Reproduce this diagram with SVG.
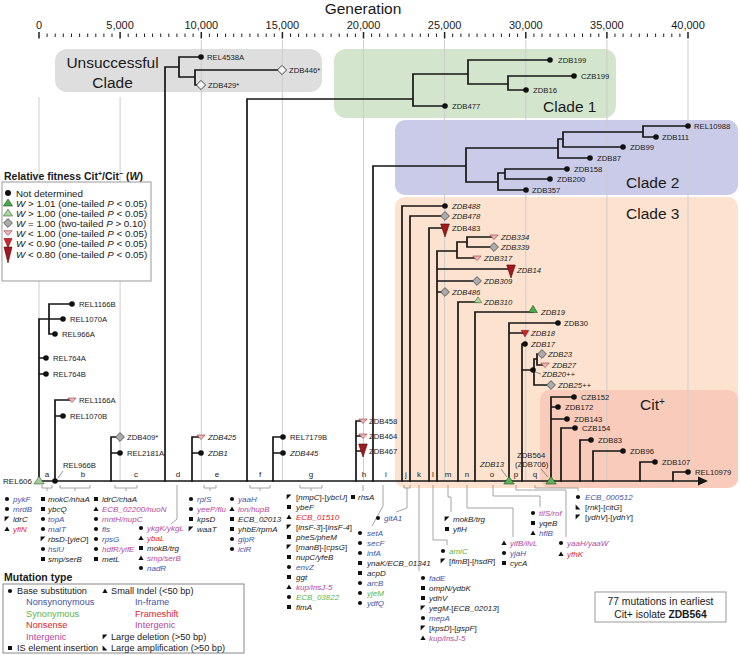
<svg xmlns="http://www.w3.org/2000/svg" xmlns:xlink="http://www.w3.org/1999/xlink" width="740" height="655" viewBox="0 0 740 655">
<style>
text{font-family:"Liberation Sans",Arial,sans-serif;fill:#1a1a1a}
.n{font-size:7.7px}
.i{font-style:italic}
.ml{font-size:8px;font-style:italic}
.seg{font-size:8px}
.ax{font-size:11px}
.cl{font-size:15.5px}
.lg{font-size:9.8px}
.mt{font-size:9.2px}
.grid{stroke:#cdcdcd;stroke-width:1;fill:none}
.tree{stroke:#151515;stroke-width:1.7;fill:none;stroke-linecap:square}
.conn{stroke:#9a9a9a;stroke-width:0.9;fill:none}
.cb{fill:#3d55a8}.cg{fill:#5cb549}.cr{fill:#e5232b}.cm{fill:#b4489c}
text.cb{fill:#3d55a8}text.cg{fill:#5cb549}text.cr{fill:#e5232b}text.cm{fill:#b4489c}
.nt{font-style:normal}
</style>
<defs>
<circle id="dot" r="2.8" fill="#111"/>
<path id="dia" d="M0,-4.4L4.4,0L0,4.4L-4.4,0Z" fill="#ababab" stroke="#444" stroke-width="0.8"/>
<path id="diaw" d="M0,-4.6L4.6,0L0,4.6L-4.6,0Z" fill="#f4f4f4" stroke="#333" stroke-width="0.9"/>
<path id="tpk" d="M-4.2,-2H4.2L0,2.6Z" fill="#f0b2b6" stroke="#8a3c40" stroke-width="0.6"/>
<path id="trd" d="M-3.8,-2.6H3.8L0,3.8Z" fill="#d3222a" stroke="#6a1014" stroke-width="0.6"/>
<path id="tdr" d="M-4.3,-4H4.3L0,9Z" fill="#a3171d" stroke="#4a0a0c" stroke-width="0.6"/>
<path id="tgr" d="M0,-4.6L4.4,2.6H-4.4Z" fill="#4aa84a" stroke="#1f4f1f" stroke-width="0.6"/>
<path id="tlg" d="M0,-3.6L3.9,2.2H-3.9Z" fill="#a9d59b" stroke="#3d6a35" stroke-width="0.6"/>
<path id="tbg" d="M0,-4.6L5.2,3H-5.2Z" fill="#5cb45a" stroke="#1f4f1f" stroke-width="0.6"/>
<path id="tbl" d="M0,-4.6L5.2,3H-5.2Z" fill="#a5c99a" stroke="#3d6a35" stroke-width="0.6"/>
<circle id="mb" r="2.1" fill="#111"/>
<rect id="ms" x="-2" y="-2" width="4" height="4" fill="#111"/>
<path id="mt" d="M0,-2.6L2.6,2H-2.6Z" fill="#111"/>
<path id="md" d="M-2.4,-2.4H2.4L-2.4,2.4Z" fill="#111"/>
<path id="ma" d="M-2.4,-2.4V2.4H2.4Z" fill="#111"/>
</defs>

<!-- title & axis -->
<g id="axis">
<text x="363" y="14" text-anchor="middle" style="font-size:15.5px">Generation</text>
<g class="ax" text-anchor="middle">
<text x="39" y="29.3">0</text><text x="120.1" y="29.3">5,000</text><text x="201.3" y="29.3">10,000</text><text x="282.4" y="29.3">15,000</text><text x="363.5" y="29.3">20,000</text><text x="444.6" y="29.3">25,000</text><text x="525.8" y="29.3">30,000</text><text x="606.9" y="29.3">35,000</text><text x="688" y="29.3">40,000</text>
</g>
<path stroke="#222" stroke-width="1" d="M47.1,33.5V37M55.2,33.5V37M63.3,33.5V37M71.5,33.5V37M79.6,33.5V37M87.7,33.5V37M95.8,33.5V37M103.9,33.5V37M112,33.5V37M128.2,33.5V37M136.4,33.5V37M144.5,33.5V37M152.6,33.5V37M160.7,33.5V37M168.8,33.5V37M176.9,33.5V37M185,33.5V37M193.1,33.5V37M209.4,33.5V37M217.5,33.5V37M225.6,33.5V37M233.7,33.5V37M241.8,33.5V37M249.9,33.5V37M258,33.5V37M266.2,33.5V37M274.3,33.5V37M290.5,33.5V37M298.6,33.5V37M306.7,33.5V37M314.8,33.5V37M322.9,33.5V37M331.1,33.5V37M339.2,33.5V37M347.3,33.5V37M355.4,33.5V37M371.6,33.5V37M379.7,33.5V37M387.8,33.5V37M396,33.5V37M404.1,33.5V37M412.2,33.5V37M420.3,33.5V37M428.4,33.5V37M436.5,33.5V37M452.7,33.5V37M460.9,33.5V37M469,33.5V37M477.1,33.5V37M485.2,33.5V37M493.3,33.5V37M501.4,33.5V37M509.5,33.5V37M517.6,33.5V37M533.9,33.5V37M542,33.5V37M550.1,33.5V37M558.2,33.5V37M566.3,33.5V37M574.4,33.5V37M582.5,33.5V37M590.7,33.5V37M598.8,33.5V37M615,33.5V37M623.1,33.5V37M631.2,33.5V37M639.3,33.5V37M647.4,33.5V37M655.6,33.5V37M663.7,33.5V37M671.8,33.5V37M679.9,33.5V37"/>
<path stroke="#222" stroke-width="1.5" d="M39,32V38.5M120.1,32V38.5M201.3,32V38.5M282.4,32V38.5M363.5,32V38.5M444.6,32V38.5M525.8,32V38.5M606.9,32V38.5M688,32V38.5"/>
</g>

<!-- clade backgrounds -->
<g id="clade-boxes">
<rect x="55" y="49" width="267" height="43" rx="12" fill="#dedede"/>
<rect x="334" y="49" width="282" height="69" rx="12" fill="#d3e6cd"/>
<rect x="395" y="120" width="343" height="75" rx="10" fill="#c9cbe8"/>
<rect x="395" y="197" width="343" height="291" rx="10" fill="#fde3cf"/>
<rect x="540" y="390" width="198" height="98" rx="10" fill="#f8cbbb"/>
</g>

<g id="grid">
<path class="grid" d="M39,97V481M120.1,97V481M201.3,40V481M282.4,40V481M363.5,40V481M444.6,40V481M525.8,40V481M606.9,40V481M688,40V481"/>
</g>

<g id="clade-labels" class="cl">
<text x="112.5" y="68" text-anchor="middle">Unsuccessful</text>
<text x="112.5" y="88" text-anchor="middle">Clade</text>
<text x="543" y="112">Clade 1</text>
<text x="626" y="188">Clade 2</text>
<text x="626" y="219">Clade 3</text>
<text x="640" y="410">Cit<tspan dy="-5" style="font-size:10px">+</tspan></text>
</g>

<!-- fitness legend -->
<g id="fitness-legend">
<text x="4" y="180" style="font-size:10.5px;font-weight:bold">Relative fitness Cit<tspan dy="-4" style="font-size:7px">+</tspan><tspan dy="4">/Cit</tspan><tspan dy="-4" style="font-size:7px">−</tspan><tspan dy="4"> (</tspan><tspan font-style="italic">W</tspan>)</text>
<rect x="2" y="182" width="149" height="99" fill="#fff" stroke="#999" stroke-width="1"/>
<circle cx="8" cy="193" r="3" fill="#111"/>
<path transform="translate(8,203)" d="M0,-4L4.6,3H-4.6Z" fill="#4aa84a" stroke="#1f4f1f" stroke-width="0.6"/>
<path transform="translate(8,213)" d="M0,-4L4.6,3H-4.6Z" fill="#a9d59b" stroke="#3d6a35" stroke-width="0.6"/>
<use href="#dia" x="8" y="223"/>
<path transform="translate(8,233)" d="M-4.2,-2.3H4.2L0,2.5Z" fill="#f0b2b6" stroke="#8a3c40" stroke-width="0.6"/>
<path transform="translate(8,243)" d="M-4,-4.5H4L0,4.5Z" fill="#d3222a" stroke="#6a1014" stroke-width="0.6"/>
<path transform="translate(8,253)" d="M-4,-6H4L0,10Z" fill="#a3171d" stroke="#4a0a0c" stroke-width="0.6"/>
<g class="lg">
<text x="16" y="196.5">Not determined</text>
<text x="16" y="206.5"><tspan class="i">W</tspan> &gt; 1.01 (one-tailed <tspan class="i">P</tspan> &lt; 0.05)</text>
<text x="16" y="216.5"><tspan class="i">W</tspan> &gt; 1.00 (one-tailed <tspan class="i">P</tspan> &lt; 0.05)</text>
<text x="16" y="226.5"><tspan class="i">W</tspan> = 1.00 (two-tailed <tspan class="i">P</tspan> &gt; 0.10)</text>
<text x="16" y="236.5"><tspan class="i">W</tspan> &lt; 1.00 (one-tailed <tspan class="i">P</tspan> &lt; 0.05)</text>
<text x="16" y="246.5"><tspan class="i">W</tspan> &lt; 0.90 (one-tailed <tspan class="i">P</tspan> &lt; 0.05)</text>
<text x="16" y="257.5"><tspan class="i">W</tspan> &lt; 0.80 (one-tailed <tspan class="i">P</tspan> &lt; 0.05)</text>
</g>
</g>

<!-- connectors: tree branches -->
<g id="connectors">
<path class="tree" d="M39,481V319H49M49,304V334M49,304H72M49,319H63M49,334H55M39,358H46M39,374H46"/>
<path class="tree" d="M55,481V400H72M55,416H63"/>
<path class="tree" d="M111,481V437H120M111,453H120"/>
<path class="tree" d="M165,481V67H179M179,57V77M179,57H201M179,77H195M195,70V85M195,70H282M195,85H201"/>
<path class="tree" d="M192,481V437H201M192,453H201"/>
<path class="tree" d="M247,481V99H413M413,74V106M413,106H445M413,74H468M468,60V84M468,60H550M468,84H508M508,76V90M508,76H574M508,90H526"/>
<path class="tree" d="M273,481V437H283M273,453H283"/>
<path class="tree" d="M356,481V421H363M356,436H363M356,451H363"/>
<path class="tree" d="M373,481V166H466M466,148V182M466,148H558M558,139V158M558,158H590M558,139H563M563,132V147M563,147H623M563,132H643M643,126V137M643,126H688M643,137H656M466,182H498M498,173V190M498,190H526M498,173H505M505,169V179M505,169H567M505,179H550"/>
<path class="tree" d="M402,481V206H445M410,481V216H445M429,481V228H445"/>
<path class="tree" d="M437,481V251H457M457,242V258M457,242H467M467,237V247M467,237H494M467,247H494M457,258H477M437,269H511M437,281H477M437,292H445"/>
<path class="tree" d="M458,481V302H478M475,481V312H533"/>
<path class="tree" d="M509,481V323H558M509,333H525"/>
<path class="tree" d="M522,481V344H525M522,370H533M534,359V385M534,359H537M537,354V365M537,354H542M537,365H545M534,385H551"/>
<path class="tree" d="M551,481V397H574M551,407H558M551,419H567"/>
<path class="tree" d="M561,481V428H575M580,481V440H591M593,481V451H623M640,481V462H655M673,481V472H688"/>
<path class="tree" d="M39,481H700"/>
<path d="M698,476.5L708,481L698,485.5Z" fill="#151515"/>
<!-- leaders -->
<path stroke="#666" stroke-width="0.7" fill="none" d="M58,478L63,471M501,469L507,477M541,469L548,477M535,372L541,374"/>
<!-- mutation connectors -->
<path class="conn" d="M42,485V488H52V485M47,488V491"/>
<path class="conn" d="M60,485V488H90V485M75,488V491"/>
<path class="conn" d="M115,485V488H137V485M126,488V491"/>
<path class="conn" d="M177,485V519L171,524"/>
<path class="conn" d="M204,485V488H216V485M210,488V491"/>
<path class="conn" d="M250,485V488H270V485M260,488V491"/>
<path class="conn" d="M300,485V488H322V485M311,488V491"/>
<path class="conn" d="M363,485V491"/>
<path class="conn" d="M383,485V506L372,526"/>
<path class="conn" d="M404,485V488H410V485M407,488V508L396,512"/>
<path class="conn" d="M419,485V571"/>
<path class="conn" d="M433,485V540H447V545"/>
<path class="conn" d="M448,485V497H451V512"/>
<path class="conn" d="M467,485V508H513V537"/>
<path class="conn" d="M493,485V496H540V507"/>
<path class="conn" d="M516,485V490H566V537"/>
<path class="conn" d="M535,485V488H578V491"/>
</g>

<!-- nodes -->
<g id="node-REL606"><use href="#tbl" x="39" y="481"/><text class="seg" x="32" y="484" text-anchor="end">REL606</text></g>
<g id="node-REL1166B"><use href="#dot" x="72" y="304"/><text class="n" x="79" y="306.8">REL1166B</text></g>
<g id="node-REL1070A"><use href="#dot" x="63" y="319"/><text class="n" x="70" y="321.8">REL1070A</text></g>
<g id="node-REL966A"><use href="#dot" x="55" y="334"/><text class="n" x="62" y="336.8">REL966A</text></g>
<g id="node-REL764A"><use href="#dot" x="46" y="358"/><text class="n" x="53" y="360.8">REL764A</text></g>
<g id="node-REL764B"><use href="#dot" x="46" y="374"/><text class="n" x="53" y="376.8">REL764B</text></g>
<g id="node-REL1166A"><use href="#tpk" x="72" y="400"/><text class="n" x="79" y="402.8">REL1166A</text></g>
<g id="node-REL1070B"><use href="#dot" x="63" y="416"/><text class="n" x="70" y="418.8">REL1070B</text></g>
<g id="node-REL966B"><use href="#dot" x="55" y="481"/><text class="n" x="63" y="468">REL966B</text></g>
<g id="node-ZDB409"><use href="#dia" x="120" y="437"/><text class="n" x="127" y="439.8">ZDB409*</text></g>
<g id="node-REL2181A"><use href="#dot" x="120" y="453"/><text class="n" x="127" y="455.8">REL2181A</text></g>
<g id="node-REL4538A"><use href="#dot" x="201" y="57"/><text class="n" x="207" y="59.8">REL4538A</text></g>
<g id="node-ZDB446"><use href="#diaw" x="282" y="70"/><text class="n" x="289" y="72.8">ZDB446*</text></g>
<g id="node-ZDB429"><use href="#diaw" x="201" y="85"/><text class="n" x="208" y="87.8">ZDB429*</text></g>
<g id="node-ZDB425"><use href="#tpk" x="201" y="437"/><text class="n i" x="208" y="439.8">ZDB425</text></g>
<g id="node-ZDB1"><use href="#dot" x="201" y="453"/><text class="n i" x="208" y="455.8">ZDB1</text></g>
<g id="node-REL7179B"><use href="#dot" x="283" y="437"/><text class="n" x="290" y="439.8">REL7179B</text></g>
<g id="node-ZDB445"><use href="#dot" x="283" y="453"/><text class="n i" x="290" y="455.8">ZDB445</text></g>
<g id="node-ZDB458"><use href="#tpk" x="363" y="421"/><text class="n" x="369" y="423.8">ZDB458</text></g>
<g id="node-ZDB464"><use href="#tpk" x="363" y="436"/><text class="n" x="369" y="438.8">ZDB464</text></g>
<g id="node-ZDB467"><use href="#tdr" x="363" y="448"/><text class="n" x="369" y="453.8">ZDB467</text></g>
<g id="node-ZDB199"><use href="#dot" x="550" y="60"/><text class="n" x="558" y="62.8">ZDB199</text></g>
<g id="node-CZB199"><use href="#dot" x="574" y="76"/><text class="n" x="581" y="78.8">CZB199</text></g>
<g id="node-ZDB16"><use href="#dot" x="526" y="90"/><text class="n" x="533" y="92.8">ZDB16</text></g>
<g id="node-ZDB477"><use href="#dot" x="445" y="106"/><text class="n" x="452" y="108.8">ZDB477</text></g>
<g id="node-REL10988"><use href="#dot" x="688" y="126"/><text class="n" x="694" y="128.8">REL10988</text></g>
<g id="node-ZDB111"><use href="#dot" x="656" y="137"/><text class="n" x="662" y="139.8">ZDB111</text></g>
<g id="node-ZDB99"><use href="#dot" x="623" y="147"/><text class="n" x="630" y="149.8">ZDB99</text></g>
<g id="node-ZDB87"><use href="#dot" x="590" y="158"/><text class="n" x="597" y="160.8">ZDB87</text></g>
<g id="node-ZDB158"><use href="#dot" x="567" y="169"/><text class="n" x="574" y="171.8">ZDB158</text></g>
<g id="node-ZDB200"><use href="#dot" x="550" y="179"/><text class="n" x="557" y="181.8">ZDB200</text></g>
<g id="node-ZDB357"><use href="#dot" x="526" y="190"/><text class="n" x="532" y="192.8">ZDB357</text></g>
<g id="node-ZDB488"><use href="#dot" x="445" y="206"/><text class="n i" x="452" y="208.8">ZDB488</text></g>
<g id="node-ZDB478"><use href="#dia" x="445" y="216"/><text class="n i" x="452" y="218.8">ZDB478</text></g>
<g id="node-ZDB483"><use href="#tdr" x="445" y="228"/><text class="n" x="452" y="230.8">ZDB483</text></g>
<g id="node-ZDB334"><use href="#tpk" x="494" y="237"/><text class="n i" x="501" y="239.8">ZDB334</text></g>
<g id="node-ZDB339"><use href="#dia" x="494" y="247"/><text class="n i" x="501" y="249.8">ZDB339</text></g>
<g id="node-ZDB317"><use href="#tpk" x="477" y="258"/><text class="n i" x="484" y="260.8">ZDB317</text></g>
<g id="node-ZDB14"><use href="#tdr" x="511" y="269"/><text class="n i" x="517" y="273">ZDB14</text></g>
<g id="node-ZDB309"><use href="#dia" x="477" y="281"/><text class="n i" x="484" y="283.8">ZDB309</text></g>
<g id="node-ZDB486"><use href="#dia" x="445" y="292"/><text class="n i" x="452" y="294.8">ZDB486</text></g>
<g id="node-ZDB310"><use href="#tlg" x="478" y="300.5"/><text class="n i" x="484" y="304.5">ZDB310</text></g>
<g id="node-ZDB19"><use href="#tgr" x="533" y="310"/><text class="n i" x="541" y="314.5">ZDB19</text></g>
<g id="node-ZDB30"><use href="#dot" x="558" y="323"/><text class="n" x="564" y="325.8">ZDB30</text></g>
<g id="node-ZDB18"><use href="#trd" x="525" y="333"/><text class="n i" x="531" y="335.8">ZDB18</text></g>
<g id="node-ZDB17"><use href="#dot" x="525" y="344"/><text class="n i" x="531" y="346.8">ZDB17</text></g>
<g id="node-ZDB23"><use href="#dia" x="542" y="354"/><text class="n i" x="548" y="356.8">ZDB23</text></g>
<g id="node-ZDB27"><use href="#tpk" x="545" y="365"/><text class="n i" x="552" y="367.8">ZDB27</text></g>
<g id="node-ZDB20"><use href="#dot" x="533" y="370"/><text class="n i" x="542" y="377">ZDB20++</text></g>
<g id="node-ZDB25"><use href="#dia" x="551" y="385"/><text class="n i" x="558" y="387.8">ZDB25++</text></g>
<g id="node-ZDB13"><use href="#tbg" x="509" y="481"/><text class="n i" x="480" y="467">ZDB13</text></g>
<g id="node-ZDB564"><use href="#tbg" x="551" y="481"/><text class="n" x="517" y="458">ZDB564</text><text class="n" x="515" y="466.5">(ZDB706)</text></g>
<g id="node-CZB152"><use href="#dot" x="574" y="397"/><text class="n" x="581" y="399.8">CZB152</text></g>
<g id="node-ZDB172"><use href="#dot" x="558" y="407"/><text class="n" x="565" y="409.8">ZDB172</text></g>
<g id="node-ZDB143"><use href="#dot" x="567" y="419"/><text class="n" x="574" y="421.8">ZDB143</text></g>
<g id="node-CZB154"><use href="#dot" x="575" y="428"/><text class="n" x="582" y="430.8">CZB154</text></g>
<g id="node-ZDB83"><use href="#dot" x="591" y="440"/><text class="n" x="598" y="442.8">ZDB83</text></g>
<g id="node-ZDB96"><use href="#dot" x="623" y="451"/><text class="n" x="630" y="453.8">ZDB96</text></g>
<g id="node-ZDB107"><use href="#dot" x="655" y="462"/><text class="n" x="662" y="464.8">ZDB107</text></g>
<g id="node-REL10979"><use href="#dot" x="688" y="472"/><text class="n" x="695" y="474.8">REL10979</text></g>

<!-- segment letters -->
<g id="segments" class="seg" text-anchor="middle">
<text x="47" y="477">a</text><text x="83" y="477">b</text><text x="136" y="477">c</text><text x="178" y="477">d</text><text x="217" y="477">e</text><text x="260" y="477">f</text><text x="311" y="477">g</text><text x="364" y="477">h</text><text x="386" y="477">i</text><text x="406" y="477">j</text><text x="419" y="477">k</text><text x="433" y="477">l</text><text x="448" y="477">m</text><text x="467" y="477">n</text><text x="492" y="477">o</text><text x="516" y="477">p</text><text x="535" y="477">q</text>
</g>

<!-- mutation lists -->
<g id="list-a">
<use href="#mb" x="7" y="499"/><text class="ml cb" x="13" y="501.8">pykF</text>
<use href="#mb" x="7" y="509"/><text class="ml cb" x="13" y="511.8">mrdB</text>
<use href="#md" x="7" y="519"/><text class="ml" x="13" y="521.8">ldrC</text>
<use href="#mt" x="7" y="529"/><text class="ml cr" x="13" y="531.8">yfiN</text>
</g>
<g id="list-b">
<use href="#ms" x="43" y="499"/><text class="ml" x="48" y="501.8">mokC/nhaA</text>
<use href="#ms" x="43" y="509"/><text class="ml" x="48" y="511.8">ybcQ</text>
<use href="#mb" x="43" y="519"/><text class="ml cb" x="48" y="521.8">topA</text>
<use href="#mb" x="43" y="529"/><text class="ml cb" x="48" y="531.8">malT</text>
<use href="#md" x="43" y="539"/><text class="ml" x="48" y="541.8">rbsD-<tspan class="nt">[</tspan>yieO<tspan class="nt">]</tspan></text>
<use href="#mb" x="43" y="549"/><text class="ml cb" x="48" y="551.8">hslU</text>
<use href="#ms" x="43" y="559"/><text class="ml" x="48" y="561.8">smp/serB</text>
</g>
<g id="list-c">
<use href="#ms" x="96" y="499"/><text class="ml" x="102" y="501.8">ldrC/chaA</text>
<use href="#mt" x="96" y="509"/><text class="ml cm" x="102" y="511.8">ECB_02200/nuoN</text>
<use href="#mb" x="96" y="519"/><text class="ml cm" x="102" y="521.8">mntH/nupC</text>
<use href="#mb" x="96" y="529"/><text class="ml cb" x="102" y="531.8">fis</text>
<use href="#mb" x="96" y="539"/><text class="ml cb" x="102" y="541.8">rpsG</text>
<use href="#mb" x="96" y="549"/><text class="ml cm" x="102" y="551.8">hdfR/yifE</text>
<use href="#ms" x="96" y="559"/><text class="ml" x="102" y="561.8">metL</text>
</g>
<g id="list-d">
<use href="#mb" x="141" y="528"/><text class="ml cm" x="147" y="530.8">ykgK/ykgL</text>
<use href="#mt" x="141" y="538"/><text class="ml cr" x="147" y="540.8">ybaL</text>
<use href="#ms" x="141" y="548"/><text class="ml" x="147" y="550.8">mokB/trg</text>
<use href="#mt" x="141" y="558"/><text class="ml cm" x="147" y="560.8">smp/serB</text>
<use href="#mb" x="141" y="568"/><text class="ml cb" x="147" y="570.8">nadR</text>
</g>
<g id="list-e">
<use href="#mb" x="191" y="499"/><text class="ml cb" x="197" y="501.8">rplS</text>
<use href="#mb" x="191" y="509"/><text class="ml cm" x="197" y="511.8">yeeP/flu</text>
<use href="#ms" x="191" y="519"/><text class="ml" x="197" y="521.8">kpsD</text>
<use href="#md" x="191" y="529"/><text class="ml" x="197" y="531.8">waaT</text>
</g>
<g id="list-f">
<use href="#mb" x="232" y="499"/><text class="ml cb" x="238" y="501.8">yaaH</text>
<use href="#mt" x="232" y="509"/><text class="ml cm" x="238" y="511.8">lon/hupB</text>
<use href="#ms" x="232" y="519"/><text class="ml" x="238" y="521.8">ECB_02013</text>
<use href="#ms" x="232" y="529"/><text class="ml" x="238" y="531.8">yhbE/rpmA</text>
<use href="#mb" x="232" y="539"/><text class="ml cb" x="238" y="541.8">glpR</text>
<use href="#mb" x="232" y="549"/><text class="ml cb" x="238" y="551.8">iclR</text>
</g>
<g id="list-g">
<use href="#md" x="289" y="497"/><text class="ml" x="296" y="499.8"><tspan class="nt">[</tspan>nmpC<tspan class="nt">]-[</tspan>ybcU<tspan class="nt">]</tspan></text>
<use href="#ms" x="289" y="507"/><text class="ml" x="296" y="509.8">ybeF</text>
<use href="#mt" x="289" y="517"/><text class="ml cr" x="296" y="519.8">ECB_01510</text>
<use href="#md" x="289" y="527"/><text class="ml" x="296" y="529.8"><tspan class="nt">[</tspan>insF-3<tspan class="nt">]-[</tspan>insF-4<tspan class="nt">]</tspan></text>
<use href="#ms" x="289" y="537"/><text class="ml" x="296" y="539.8">pheS/pheM</text>
<use href="#md" x="289" y="547"/><text class="ml" x="296" y="549.8"><tspan class="nt">[</tspan>manB<tspan class="nt">]-[</tspan>cpsG<tspan class="nt">]</tspan></text>
<use href="#ms" x="289" y="557"/><text class="ml" x="296" y="559.8">nupC/yfeB</text>
<use href="#mb" x="289" y="567"/><text class="ml cb" x="296" y="569.8">envZ</text>
<use href="#ms" x="289" y="577"/><text class="ml" x="296" y="579.8">ggt</text>
<use href="#mt" x="289" y="587"/><text class="ml cm" x="296" y="589.8">kup/insJ-5</text>
<use href="#mb" x="289" y="597"/><text class="ml cg" x="296" y="599.8">ECB_03822</text>
<use href="#ms" x="289" y="607"/><text class="ml" x="296" y="609.8">fimA</text>
</g>
<g id="list-h">
<use href="#ms" x="353" y="497"/><text class="ml" x="358" y="499.8">rhsA</text>
</g>
<g id="list-i">
<use href="#mb" x="360" y="533"/><text class="ml cb" x="367" y="535.8">setA</text>
<use href="#mb" x="360" y="543"/><text class="ml cb" x="367" y="545.8">secF</text>
<use href="#mb" x="360" y="553"/><text class="ml cb" x="367" y="555.8">infA</text>
<use href="#ms" x="360" y="563"/><text class="ml" x="367" y="565.8">ynaK/ECB_01341</text>
<use href="#ms" x="360" y="573"/><text class="ml" x="367" y="575.8">acpD</text>
<use href="#mb" x="360" y="583"/><text class="ml cb" x="367" y="585.8">arcB</text>
<use href="#mb" x="360" y="593"/><text class="ml cg" x="367" y="595.8">yjeM</text>
<use href="#mb" x="360" y="603"/><text class="ml cb" x="367" y="605.8">ydfQ</text>
</g>
<g id="list-j">
<use href="#mb" x="378" y="518"/><text class="ml cb" x="384" y="520.8">gltA1</text>
</g>
<g id="list-k">
<use href="#mb" x="423" y="578"/><text class="ml cb" x="429" y="580.8">fadE</text>
<use href="#ms" x="423" y="588"/><text class="ml" x="429" y="590.8">ompN/ydbK</text>
<use href="#ms" x="423" y="598"/><text class="ml" x="429" y="600.8">ydhV</text>
<use href="#md" x="423" y="608"/><text class="ml" x="429" y="610.8">yegM-<tspan class="nt">[</tspan>ECB_02013<tspan class="nt">]</tspan></text>
<use href="#mb" x="423" y="618"/><text class="ml cb" x="429" y="620.8">mepA</text>
<use href="#md" x="423" y="628"/><text class="ml" x="429" y="630.8"><tspan class="nt">[</tspan>kpsD<tspan class="nt">]-[</tspan>gspF<tspan class="nt">]</tspan></text>
<use href="#mt" x="423" y="638"/><text class="ml cm" x="429" y="640.8">kup/insJ-5</text>
</g>
<g id="list-l">
<use href="#mb" x="443" y="551"/><text class="ml cg" x="449" y="553.8">amiC</text>
<use href="#md" x="443" y="561"/><text class="ml" x="449" y="563.8"><tspan class="nt">[</tspan>fimB<tspan class="nt">]-[</tspan>hsdR<tspan class="nt">]</tspan></text>
</g>
<g id="list-m">
<use href="#md" x="447" y="519"/><text class="ml" x="453" y="521.8">mokB/trg</text>
<use href="#ms" x="447" y="529"/><text class="ml" x="453" y="531.8">yfiH</text>
</g>
<g id="list-n">
<use href="#mt" x="504" y="543"/><text class="ml cm" x="510" y="545.8">yifB/ilvL</text>
<use href="#mb" x="504" y="553"/><text class="ml cb" x="510" y="555.8">yjaH</text>
<use href="#ms" x="504" y="563"/><text class="ml" x="510" y="565.8">cycA</text>
</g>
<g id="list-o">
<use href="#mb" x="533" y="513"/><text class="ml cm" x="539" y="515.8">tilS/rof</text>
<use href="#ms" x="533" y="523"/><text class="ml" x="539" y="525.8">yqeB</text>
<use href="#mt" x="533" y="533"/><text class="ml cb" x="539" y="535.8">hflB</text>
</g>
<g id="list-p">
<use href="#mb" x="561" y="543"/><text class="ml cm" x="567" y="545.8">yaaH/yaaW</text>
<use href="#mt" x="561" y="554"/><text class="ml cr" x="567" y="556.8">yfhK</text>
</g>
<g id="list-q">
<use href="#mb" x="578" y="497"/><text class="ml cb" x="585" y="499.8">ECB_000512</text>
<use href="#ma" x="578" y="507"/><text class="ml" x="585" y="509.8"><tspan class="nt">[</tspan>rnk<tspan class="nt">]-[</tspan>citG<tspan class="nt">]</tspan></text>
<use href="#md" x="578" y="517"/><text class="ml" x="585" y="519.8"><tspan class="nt">[</tspan>ydhV<tspan class="nt">]-[</tspan>ydhY<tspan class="nt">]</tspan></text>
</g>

<!-- mutation type legend -->
<g id="mutation-legend">
<text x="4" y="581" style="font-size:10.5px;font-weight:bold">Mutation type</text>
<rect x="3" y="584" width="241" height="69" fill="#fff" stroke="#888" stroke-width="1"/>
<g class="mt">
<use href="#mb" x="10" y="591"/><text x="17" y="594.3">Base substitution</text>
<text class="cb" x="26" y="605.3">Nonsynonymous</text>
<text class="cg" x="26" y="617.3">Synonymous</text>
<text class="cr" x="26" y="628.3">Nonsense</text>
<text class="cm" x="26" y="640.3">Intergenic</text>
<use href="#ms" x="10" y="648"/><text x="17" y="651.3">IS element insertion</text>
<use href="#mt" x="105" y="591"/><text x="111" y="594.3">Small Indel (&lt;50 bp)</text>
<text class="cb" x="135" y="605.3">In-frame</text>
<text class="cr" x="135" y="617.3">Frameshift</text>
<text class="cm" x="135" y="628.3">Intergenic</text>
<use href="#md" x="105" y="637"/><text x="111" y="640.3">Large deletion (&gt;50 bp)</text>
<use href="#ma" x="105" y="648"/><text x="111" y="651.3">Large amplification (&gt;50 bp)</text>
</g>
</g>

<g id="summary-box">
<rect x="595" y="592" width="131" height="30" fill="#fff" stroke="#999" stroke-width="1"/>
<text x="660.5" y="604.5" text-anchor="middle" style="font-size:10.3px">77 mutations in earliest</text>
<text x="660.5" y="617.5" text-anchor="middle" style="font-size:10.3px">Cit+ isolate <tspan font-weight="bold">ZDB564</tspan></text>
</g>
</svg>
